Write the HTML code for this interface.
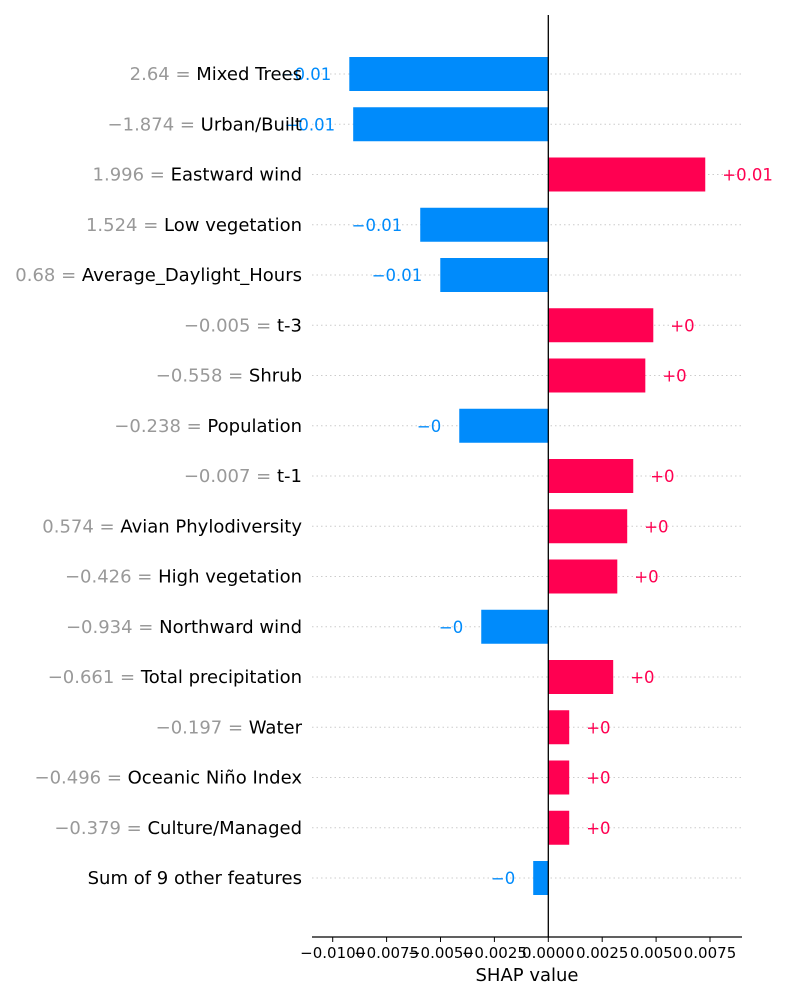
<!DOCTYPE html>
<html><head><meta charset="utf-8"><style>
body{margin:0;background:#fff;}
svg{display:block;font-family:"DejaVu Sans","Liberation Sans",sans-serif;}
</style></head><body>
<svg id="chart" width="800" height="1000"></svg>
<script>
const features=["Mixed Trees","Urban/Built","Eastward wind","Low vegetation","Average_Daylight_Hours","t-3","Shrub","Population","t-1","Avian Phylodiversity","High vegetation","Northward wind","Total precipitation","Water","Oceanic Niño Index","Culture/Managed","Sum of 9 other features"];
const featureValues=["2.64","\u22121.874","1.996","1.524","0.68","\u22120.005","\u22120.558","\u22120.238","\u22120.007","0.574","\u22120.426","\u22120.934","\u22120.661","\u22120.197","\u22120.496","\u22120.379",""];
const shapValues=[-0.00923,-0.00905,0.00728,-0.00594,-0.00501,0.00487,0.0045,-0.00413,0.00394,0.00366,0.0032,-0.00311,0.00301,0.00097,0.00097,0.00097,-0.0007];
const valueLabels=["\u22120.01","\u22120.01","+0.01","\u22120.01","\u22120.01","+0","+0","\u22120","+0","+0","+0","\u22120","+0","+0","+0","+0","\u22120"];
const ticks=[-0.01,-0.0075,-0.005,-0.0025,0,0.0025,0.005,0.0075];
const tickLabels=["\u22120.0100","\u22120.0075","\u22120.0050","\u22120.0025","0.0000","0.0025","0.0050","0.0075"];

const NS="http://www.w3.org/2000/svg";
const svg=document.getElementById('chart');
const X0=548.3, K=21560, L=312, R=742, AX=937;
const xs=v=>X0+v*K;
const ys=i=>74+i*50.25;
function mk(t,a,p){const e=document.createElementNS(NS,t);for(const k in a)e.setAttribute(k,a[k]);(p||svg).appendChild(e);return e;}

features.forEach((f,i)=>{
  const y=ys(i);
  const g=mk('line',{x1:L,x2:R,y1:y,y2:y,stroke:'#ccc','stroke-dasharray':'1.5,3','stroke-width':1});
  
  
  const v=shapValues[i];
  const col=v<0?'#008bfb':'#ff0051';
  const x1=Math.min(xs(0),xs(v)), w=Math.abs(xs(v)-xs(0));
  const b=mk('rect',{x:x1,y:y-17,width:w,height:34,fill:col});
  
  
  const vt=mk('text',{x:v<0?xs(v)-18:xs(v)+17,y:y+6,'font-size':16.5,fill:col,'text-anchor':v<0?'end':'start'});
  vt.textContent=valueLabels[i];
  
  
  const lt=mk('text',{x:302,y:y+6,'font-size':18,'text-anchor':'end',fill:'#000'});
  if(featureValues[i]){const s=mk('tspan',{fill:'#999'},lt);s.textContent=featureValues[i]+' = ';}
  const s2=mk('tspan',{},lt);s2.textContent=f;
  
  
});
const zl=mk('line',{x1:X0,x2:X0,y1:15,y2:AX,stroke:'#000','stroke-width':1.3});


const ax=mk('line',{x1:L,x2:R,y1:AX,y2:AX,stroke:'#000','stroke-width':1.3});


ticks.forEach((t,i)=>{
  const tk=mk('line',{x1:xs(t),x2:xs(t),y1:AX,y2:AX+5,stroke:'#000'});
  
  
  const tl=mk('text',{x:xs(t),y:AX+21,'font-size':15,'text-anchor':'middle',fill:'#000'});
  tl.textContent=tickLabels[i];
  
  
});
const xt=mk('text',{x:527,y:981,'font-size':18,'text-anchor':'middle',fill:'#000'});
xt.textContent='SHAP value';


</script>
</body></html>
